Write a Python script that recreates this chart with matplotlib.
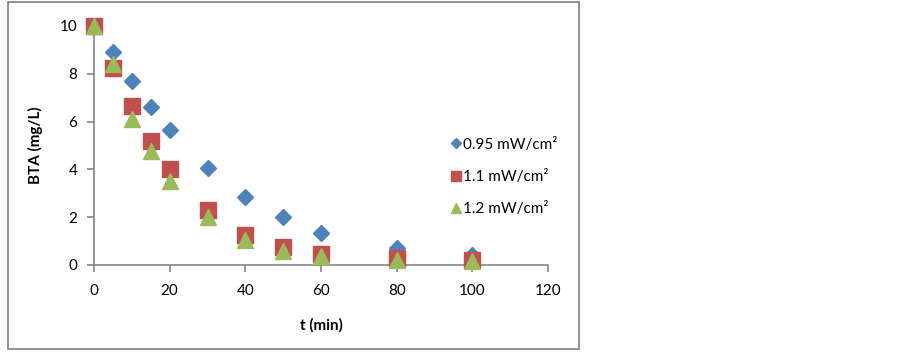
import matplotlib.pyplot as plt
from matplotlib.lines import Line2D
from matplotlib.patches import Rectangle

plt.rcParams['font.family'] = ['Lato', 'DejaVu Sans']

t = [0, 5, 10, 15, 20, 30, 40, 50, 60, 80, 100]
bta_095 = [10, 8.9, 7.7, 6.6, 5.65, 4.07, 2.83, 2.0, 1.35, 0.7, 0.4]
bta_11 = [10, 8.25, 6.65, 5.2, 4.0, 2.3, 1.25, 0.75, 0.45, 0.28, 0.22]
bta_12 = [10, 8.4, 6.1, 4.75, 3.5, 2.0, 1.05, 0.6, 0.38, 0.22, 0.15]
labels = ["0.95 mW/cm²", "1.1 mW/cm²", "1.2 mW/cm²"]
colors = ["#4F81BD", "#C0504D", "#9BBB59"]

fig = plt.figure(figsize=(9.02, 3.54), dpi=100)
fig.patches.append(Rectangle((8/902, 5/354), 571/902, 347/354, transform=fig.transFigure,
                             fill=False, edgecolor="#7f7f7f", linewidth=1.2))
ax = fig.add_axes([94/902, 89/354, 454/902, 239/354])

ax.plot(t, bta_095, "D", color=colors[0], markersize=8.5, clip_on=False, zorder=3)
ax.plot(t, bta_11, "s", color=colors[1], markersize=11, clip_on=False, zorder=4)
ax.plot(t, bta_12, "^", color=colors[2], markersize=11, clip_on=False, zorder=5)

ax.set_xlim(0, 120)
ax.set_ylim(0, 10)
ax.set_xticks(range(0, 121, 20))
ax.set_yticks(range(0, 11, 2))
for s in ["top", "right"]:
    ax.spines[s].set_visible(False)
for s in ["left", "bottom"]:
    ax.spines[s].set_color("#868686")
    ax.spines[s].set_linewidth(1.2)
ax.tick_params(axis="both", colors="#868686", labelcolor="black", labelsize=11, length=5, width=1.2)
ax.tick_params(axis="x", pad=9)
ax.tick_params(axis="y", pad=7)
ax.set_xlabel("t (min)", fontsize=11, fontweight="bold", labelpad=14)
ax.set_ylabel("BTA (mg/L)", fontsize=11, fontweight="bold", labelpad=12)

handles = [Line2D([], [], linestyle="none", marker=m, color=c, markersize=ms)
           for m, c, ms in zip(["D", "s", "^"], colors, [5, 6.5, 7])]
fig.legend(handles, labels, loc="center left", bbox_to_anchor=(443/902, 1 - 177/354),
           frameon=False, fontsize=11, handletextpad=0.0, handlelength=0.9,
           labelspacing=1.2, borderaxespad=0)

fig.savefig("out.png", dpi=100, facecolor="white")
